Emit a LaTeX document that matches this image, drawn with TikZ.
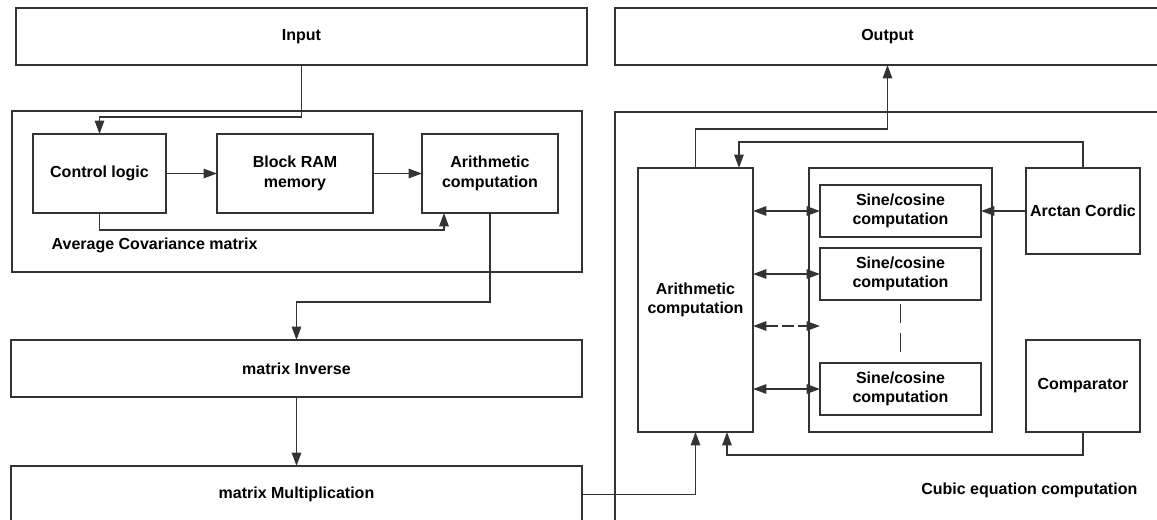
\documentclass[tikz,border=0pt]{standalone}
\usepackage{fontspec}
\setmainfont{Liberation Sans}
\usetikzlibrary{arrows.meta}

\begin{document}
\begin{tikzpicture}[x=0.75pt, y=-0.75pt,
    >={Triangle[length=10pt,width=7pt]},
    every node/.style={font=\fontsize{12}{14.5}\selectfont\bfseries},
    blk/.style={draw=black!80, line width=1.3pt, align=center, inner sep=0pt, outer sep=0pt},
    arr/.style={draw=black!80, line width=1.3pt, ->},
    biarr/.style={draw=black!80, line width=1.3pt, <->}]
        \path[use as bounding box, clip] (0,0) rectangle (1157,519);

        % Outer blocks
        \node[blk, minimum width=428.25pt, minimum height=42.75pt] (input) at (301.5,36.5) {Input};
        \node[blk, minimum width=408.75pt, minimum height=42.75pt] (output) at (887.5,36.5) {Output};
        \node[blk, minimum width=427.5pt, minimum height=120.75pt] (avgbox) at (297,191.5) {};
        \node[blk, minimum width=428.25pt, minimum height=42.75pt] (inverse) at (296.5,368.5) {matrix Inverse};
        \node[blk, minimum width=428.25pt, minimum height=42.75pt] (mult) at (296.5,494.5) {matrix Multiplication};
        \node[blk, minimum width=412.5pt, minimum height=317.25pt] (cubic) at (890,323.5) {};

        % Average covariance matrix
        \node[blk, minimum width=99.75pt, minimum height=59.25pt] (ctrl) at (99.5,173.5) {Control logic};
        \node[blk, minimum width=117pt, minimum height=59.25pt] (bram) at (295,173.5) {Block RAM\\memory};
        \node[blk, minimum width=102pt, minimum height=59.25pt] (arithL) at (490,173.5) {Arithmetic\\computation};
        \node[anchor=west] (avglabel) at (47,245) {Average Covariance matrix};

        % Cubic equation computation
        \node[blk, minimum width=86.25pt, minimum height=198pt] (arithR) at (695.5,300) {Arithmetic\\computation};
        \node[blk, minimum width=137.25pt, minimum height=198pt] (sineblk) at (900.5,300) {};
        \node[blk, minimum width=120.75pt, minimum height=39pt] (sine1) at (900.5,211) {Sine/cosine\\computation};
        \node[blk, minimum width=120.75pt, minimum height=39pt] (sine2) at (900.5,274) {Sine/cosine\\computation};
        \node[blk, minimum width=120.75pt, minimum height=39pt] (sine3) at (900.5,389) {Sine/cosine\\computation};
        \node[blk, minimum width=85.5pt, minimum height=64.5pt] (arctan) at (1083,211) {Arctan Cordic};
        \node[blk, minimum width=85.5pt, minimum height=69pt] (comp) at (1083,386) {Comparator};
        \node[anchor=east] (cubiclabel) at (1142,490) {Cubic equation computation};
        \coordinate (gap) at (820,326);

        % Edges
        \draw[arr] (input.south) -- ++(0,52) -| (ctrl.north);
        \draw[arr] (ctrl) -- (bram);
        \draw[arr] (bram) -- (arithL);
        \draw[arr] (ctrl.south) -- ++(0,17) -| ([xshift=-34.5pt]arithL.south);
        \draw[arr] (arithL.south) -- ++(0,89) -| (inverse.north);
        \draw[arr] (inverse) -- (mult);
        \draw[arr] (mult.east) -| (arithR.south);
        \draw[arr] (comp.south) -- ++(0,23) -| ([xshift=23.6pt]arithR.south);
        \draw[arr] (arithR.north) -- ++(0,-39) -| (output.south);
        \draw[arr] (arctan.north) -- ++(0,-26) -| ([xshift=32.6pt]arithR.north);
        \draw[arr] (arctan) -- (sine1);
        \draw[biarr] (arithR.east |- sine1) -- (sine1);
        \draw[biarr] (arithR.east |- sine2) -- (sine2);
        \draw[biarr] (arithR.east |- sine3) -- (sine3);
        \draw[biarr, dash pattern=on 9pt off 3pt] (arithR.east |- gap) -- (gap);
        \draw[draw=black!80, line width=1.3pt, dash pattern=on 14.25pt off 7.5pt, dash phase=18.75pt] (sine2.south) -- (sine3.north);
    \end{tikzpicture}
\end{document}
